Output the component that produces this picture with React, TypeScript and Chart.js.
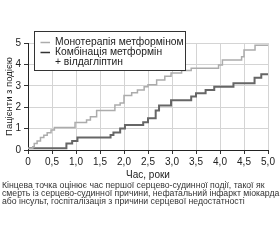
import React, { useEffect, useRef } from "react";
import { Chart, registerables } from "chart.js";

Chart.register(...registerables);

// Monotherapy (metformin) — step curve: [x, y] value starting at x
const monoX = [0, 0.1, 0.13, 0.19, 0.26, 0.33, 0.4, 0.48, 0.55, 0.98, 1.22, 1.3, 1.43, 1.81, 1.92, 2.0, 2.16, 2.28, 2.42, 2.5, 2.68, 2.85, 2.98, 3.2, 3.4, 3.97, 4.05, 4.45, 4.5, 4.73, 5.0];
const monoY = [0.08, 0.15, 0.3, 0.42, 0.58, 0.69, 0.81, 0.94, 1.05, 1.28, 1.4, 1.55, 1.85, 2.1, 2.2, 2.55, 2.68, 2.8, 2.95, 3.05, 3.27, 3.45, 3.6, 3.72, 3.82, 3.97, 4.2, 4.36, 4.67, 4.9, 4.9];

// Combination (metformin + vildagliptin)
const comboX = [0, 0.8, 0.92, 1.03, 1.72, 1.78, 1.92, 2.02, 2.4, 2.5, 2.66, 2.73, 2.98, 3.4, 3.5, 3.7, 3.88, 4.28, 4.72, 4.86, 5.0];
const comboY = [0.08, 0.3, 0.42, 0.58, 0.7, 0.82, 1.01, 1.17, 1.3, 1.48, 1.85, 2.08, 2.32, 2.5, 2.65, 2.8, 2.96, 3.12, 3.38, 3.54, 3.54];

const xTickLabels = ["0", "0,5", "1,0", "1,5", "2,0", "2,5", "3,0", "3,5", "4,0", "4,5", "5,0"];
const yTickLabels = ["0", "1", "2", "3", "4", "5"];

const legendLines = ["Монотерапія метформіном", "Комбінація метформін", "+ вілдагліптин"];
const xTitle = "Час, роки";
const yTitle = "Пацієнти з подією";
const footnote = [
  "Кінцева точка оцінює час першої серцево-судинної події, такої як",
  "смерть із серцево-судинної причини, нефатальний інфаркт міокарда",
  "або інсульт, госпіталізація з причини серцевої недостатності",
];

const FONT = "'Liberation Sans', Arial, sans-serif";
const LIGHT = "#acacac";
const DARK = "#666666";

const legendPlugin = {
  id: "boxLegend",
  afterDraw(chart: any) {
    const ctx = chart.ctx;
    const x0 = 34.5, y0 = 31.5, w = 151, h = 39;
    ctx.save();
    ctx.fillStyle = "#fff";
    ctx.fillRect(x0, y0, w, h);
    ctx.strokeStyle = "#333";
    ctx.lineWidth = 1;
    ctx.strokeRect(x0, y0, w, h);
    ctx.font = `10.3px ${FONT}`;
    ctx.textBaseline = "middle";
    ctx.fillStyle = "#222";
    const ys = [42.5, 52.5, 62];
    ctx.lineWidth = 1.5;
    ctx.strokeStyle = LIGHT;
    ctx.beginPath();
    ctx.moveTo(40.5, ys[0]);
    ctx.lineTo(50, ys[0]);
    ctx.stroke();
    ctx.strokeStyle = "#333";
    ctx.beginPath();
    ctx.moveTo(40.5, ys[1]);
    ctx.lineTo(50, ys[1]);
    ctx.stroke();
    legendLines.forEach((t, i) => ctx.fillText(t, 55, ys[i]));
    ctx.restore();
  },
};

export default function App() {
  const ref = useRef<HTMLCanvasElement>(null);
  useEffect(() => {
    document.body.style.margin = "0";
    const chart = new Chart(ref.current!, {
      type: "line",
      data: {
        datasets: [
          {
            label: legendLines[0],
            data: monoX.map((x, i) => ({ x, y: monoY[i] })),
            borderColor: LIGHT,
            borderWidth: 1.5,
            pointRadius: 0,
            stepped: true,
            fill: false,
          },
          {
            label: legendLines[1],
            data: comboX.map((x, i) => ({ x, y: comboY[i] })),
            borderColor: DARK,
            borderWidth: 2,
            pointRadius: 0,
            stepped: true,
            fill: false,
          },
        ],
      },
      options: {
        animation: false,
        responsive: false,
        maintainAspectRatio: false,
        layout: { padding: { left: 0, right: 12, top: 43, bottom: 0 } },
        plugins: { legend: { display: false }, tooltip: { enabled: false } },
        scales: {
          x: {
            type: "linear",
            min: 0,
            max: 5,
            afterFit: (s: any) => { s.height = 35; },
            ticks: {
              stepSize: 0.5,
              color: "#222",
              font: { family: FONT, size: 10 },
              padding: 2,
              maxRotation: 0,
              autoSkip: false,
              callback: (_v: any, i: number) => xTickLabels[i],
            },
            grid: { color: "#d4d4d4", tickColor: "#333", tickLength: 4, lineWidth: 1 },
            border: { color: "#222", width: 1 },
            title: { display: true, text: xTitle, color: "#222", font: { family: FONT, size: 10 }, padding: { top: 0, bottom: 4 } },
          },
          y: {
            min: 0,
            max: 5,
            afterFit: (s: any) => { s.width = 28; },
            ticks: {
              stepSize: 1,
              color: "#222",
              font: { family: FONT, size: 10 },
              padding: 3,
              callback: (_v: any, i: number) => yTickLabels[i],
            },
            grid: { color: "#d4d4d4", tickColor: "#333", tickLength: 4, lineWidth: 1 },
            border: { color: "#222", width: 1 },
            title: { display: true, text: yTitle, color: "#222", font: { family: FONT, size: 9.5 }, padding: { top: 4, bottom: 0 } },
          },
        },
      },
      plugins: [legendPlugin],
    });
    return () => chart.destroy();
  }, []);
  return (
    <div style={{ position: "fixed", left: 0, top: 0, width: 280, height: 240, background: "#fff" }}>
      <canvas ref={ref} width={280} height={185} style={{ display: "block", width: 280, height: 185 }} />
      <div
        style={{
          position: "absolute",
          left: 2,
          top: 180.5,
          fontFamily: FONT,
          fontSize: 8.7,
          lineHeight: "8px",
          color: "#333",
          whiteSpace: "nowrap",
        }}
      >
        {footnote.map((l, i) => (
          <div key={i}>{l}</div>
        ))}
      </div>
    </div>
  );
}
